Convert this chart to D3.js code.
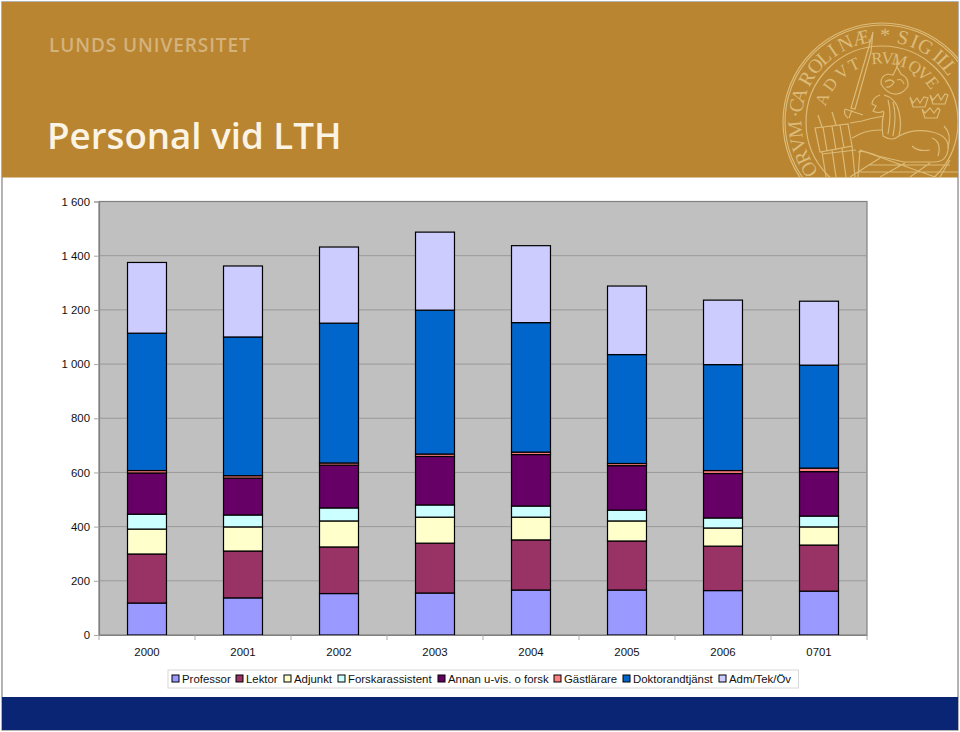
<!DOCTYPE html>
<html><head><meta charset="utf-8">
<script src="https://cdn.jsdelivr.net/npm/d3@7"></script>
<style>
html,body{margin:0;padding:0;background:#fff;overflow:hidden}
svg{display:block}
text{font-family:"Liberation Sans",Arial,sans-serif;fill:#111}
</style></head><body>
<script>
const categories=["2000","2001","2002","2003","2004","2005","2006","0701"];
const seriesNames=["Professor","Lektor","Adjunkt","Forskarassistent","Annan u-vis. o forsk","Gästlärare","Doktorandtjänst","Adm/Tek/Öv"];
const seriesColors=["#9999ff","#993366","#ffffcc","#ccffff","#660066","#ff8080","#0066cc","#ccccff"];
const professor=[118,137,153,155,166,166,164,162];
const lektor=[181,173,172,184,185,181,164,170];
const adjunkt=[92,89,96,96,84,74,67,67];
const forskarassistent=[55,44,48,45,41,40,37,40];
const annan=[152,136,158,179,190,164,164,164];
const gastlarare=[9,9,8,9,9,8,11,13];
const doktorandtjanst=[507,512,516,531,478,402,391,380];
const admTekOv=[261,262,281,288,284,253,238,236];
const yTicks=[0,200,400,600,800,1000,1200,1400,1600];
const allSeries=[professor,lektor,adjunkt,forskarassistent,annan,gastlarare,doktorandtjanst,admTekOv];
const legendWidths=[64,48,54,100,116,69,96,80];

const W=960,H=732;
const svg=d3.select("body").append("svg").attr("width",W).attr("height",H);

svg.append("rect").attr("x",2).attr("y",2).attr("width",956).attr("height",728).attr("fill","#fff").attr("stroke","#9a9a9a").attr("stroke-width",1.5);

svg.append("rect").attr("x",2).attr("y",2).attr("width",956).attr("height",175.5).attr("fill","#b98530");
svg.append("text").attr("x",49).attr("y",52).text("LUNDS UNIVERSITET")
  .style("font-family","'Open Sans','Noto Sans',sans-serif").style("font-weight",600).style("font-size","19px")
  .style("letter-spacing","0.9px").style("fill","#d4b27c");
svg.append("text").attr("x",47).attr("y",149).text("Personal vid LTH")
  .style("font-family","'Open Sans','Noto Sans',sans-serif").style("font-weight",600).style("font-size","36.7px")
  .style("fill","#fbf3e4");

// seal
const defs=svg.append("defs");
defs.append("clipPath").attr("id","bannerClip").append("rect").attr("x",2).attr("y",2).attr("width",956).attr("height",175.5);
const sealCol="#dcbb78";
const seal=svg.append("g").attr("clip-path","url(#bannerClip)");
const cx=882,cy=122;
const s=seal.append("g").attr("fill","none").attr("stroke",sealCol).attr("stroke-width",1.2);
[99,97,76].forEach(r=>s.append("circle").attr("cx",cx).attr("cy",cy).attr("r",r));
const outerLetters=["O","R","V","M","·","C","A","R","O","L","I","N","Æ","*","S","I","G","I","L","L"];
const outerAngles=[-123,-114,-105,-95,-85,-79,-72,-60,-50,-42,-34.5,-25,-14,2,14,22,30,40,46,51.5];
const innerLetters=["A","D","V","T","R","V","M","Q","V","E"];
const innerAngles=[-69,-54,-38.5,-26,-4.5,5,16,31,41,52];
function ring(letters,angles,r,size){
  seal.append("g").selectAll("text").data(letters).join("text")
    .attr("text-anchor","middle").attr("dy","0.33em")
    .attr("transform",(d,i)=>{const a=angles[i]*Math.PI/180;return `translate(${cx+r*Math.sin(a)},${cy-r*Math.cos(a)}) rotate(${angles[i]})`;})
    .text(d=>d)
    .style("font-family","'Liberation Serif',serif").style("font-size",size+"px").style("fill",sealCol);
}
ring(outerLetters,outerAngles,87,20);
ring(innerLetters,innerAngles,64,17);
const sealPaths=[
 "M873 32 L868 50 L851 108 L855 109 L871 52 Z",
 "M845 109 L863 115 M852 110 L849 118 M848 118 Q843 114 845 109",
 "M881 84 Q880 76 888 74 L893 75 L897 67 L901 74 Q909 78 908 86 Q904 93 897 94 Q888 95 881 84 Z",
 "M885 82 Q890 78 894 82 Q891 88 886 87 M897 80 Q902 78 904 84 M897 67 L897 61 M894 64 L900 64",
 "M880 95 Q872 98 872 104 L876 106 L873 111 Q878 114 884 111",
 "M884 95 Q896 98 899 112 Q902 124 899 136 Q892 142 883 136 Q881 124 884 112",
 "M888 100 Q892 114 888 134 M893 102 Q897 116 893 136",
 "M884 116 Q872 118 862 121 L850 123 M882 130 Q868 130 860 134 L852 138",
 "M899 136 Q914 128 932 132 Q950 136 948 150 Q946 162 934 162 L904 162 L878 156 Q864 150 858 152",
 "M932 138 Q942 142 938 156 M912 146 Q918 152 930 150 M948 148 Q952 134 944 126",
 "M815 128 L848 124 L852 146 L820 152 Z M823 127 L827 151 M832 126 L836 150 M840 125 L844 148",
 "M822 152 L826 177 M832 150 L836 177 M842 148 L846 177 M852 146 L855 177 M822 154 L856 150",
 "M822 127 L818 115 M836 125 L832 112",
 "M860 150 L858 177 M860 150 L935 177 M880 158 L850 177 M905 163 L880 177 M930 163 L910 177 M950 160 L940 177 M868 165 L950 165 M858 172 L958 172",
 "M910 97 L913 103 L917 98 L920 103 L924 97 L928 98 L925 107 L913 107 Z",
 "M930 95 L933 100 L938 94 L941 100 L945 94 L948 95 L945 104 L933 104 Z",
 "M922 109 L925 113 L930 108 L934 113 L938 108 L940 110 L937 118 L925 118 Z"
];
s.selectAll("path.s").data(sealPaths).join("path").attr("class","s").attr("d",d=>d);

svg.append("rect").attr("x",2).attr("y",697).attr("width",956).attr("height",33).attr("fill","#0b2575");

// chart
const plot={l:99,r:867,t:201.5,b:635};
const x=d3.scaleBand().domain(categories).range([plot.l,plot.r]).paddingInner(0.594).paddingOuter(0.297);
const y=d3.scaleLinear().domain([0,1600]).range([plot.b,plot.t]);

svg.append("rect").attr("x",plot.l).attr("y",plot.t).attr("width",plot.r-plot.l).attr("height",plot.b-plot.t)
  .attr("fill","#c0c0c0").attr("stroke","#808080").attr("stroke-width",1.2);
svg.append("g").selectAll("line").data(yTicks.slice(1,-1)).join("line")
  .attr("x1",plot.l).attr("x2",plot.r).attr("y1",d=>y(d)).attr("y2",d=>y(d)).attr("stroke","#999").attr("stroke-width",1);

const rows=categories.map((c,i)=>{const o={cat:c};seriesNames.forEach((n,j)=>o[n]=allSeries[j][i]);return o;});
const stacked=d3.stack().keys(seriesNames)(rows);
svg.append("g").selectAll("g").data(stacked).join("g").attr("fill",(d,i)=>seriesColors[i])
 .selectAll("rect").data(d=>d).join("rect")
  .attr("x",d=>x(d.data.cat)).attr("width",x.bandwidth())
  .attr("y",d=>y(d[1])).attr("height",d=>y(d[0])-y(d[1]))
  .attr("stroke","#000").attr("stroke-width",1.2);

const loc=d3.formatLocale({decimal:",",thousands:" ",grouping:[3],currency:["","kr"]});
const yAxis=d3.axisLeft(y).tickValues(yTicks).tickFormat(loc.format(",d")).tickSize(5).tickPadding(4);
const gy=svg.append("g").attr("transform",`translate(${plot.l},0)`).call(yAxis);
const gx=svg.append("g").attr("transform",`translate(0,${plot.b})`).call(d3.axisBottom(x).tickSize(0).tickPadding(11));
gx.selectAll("line").remove();
gx.append("g").selectAll("line").data(d3.range(categories.length+1)).join("line")
  .attr("x1",i=>plot.l+i*x.step()).attr("x2",i=>plot.l+i*x.step()).attr("y1",0).attr("y2",5).attr("stroke","#a8a8a8");
[gy,gx].forEach(g=>{g.select(".domain").attr("stroke","#808080").attr("stroke-width",1.2);
  g.selectAll(".tick line").attr("stroke","#a8a8a8");
  g.selectAll("text").style("font-family","'Liberation Sans',Arial,sans-serif").style("font-size","11.4px").attr("fill","#111");});
gx.selectAll(".tick text").attr("dy","0.9em");

// legend
svg.append("rect").attr("x",168).attr("y",670).attr("width",630.5).attr("height",18).attr("fill","#fff").attr("stroke","#d8d8d8").attr("stroke-width",1);
let lx=172;
seriesNames.forEach((n,i)=>{
  const g=svg.append("g").attr("transform",`translate(${lx},0)`);
  g.append("rect").attr("x",0).attr("y",675).attr("width",7).attr("height",7).attr("fill",seriesColors[i]).attr("stroke","#000").attr("stroke-width",1);
  g.append("text").attr("x",10).attr("y",683).text(n).style("font-size","11.4px");
  lx+=legendWidths[i];
});
</script>
</body></html>
